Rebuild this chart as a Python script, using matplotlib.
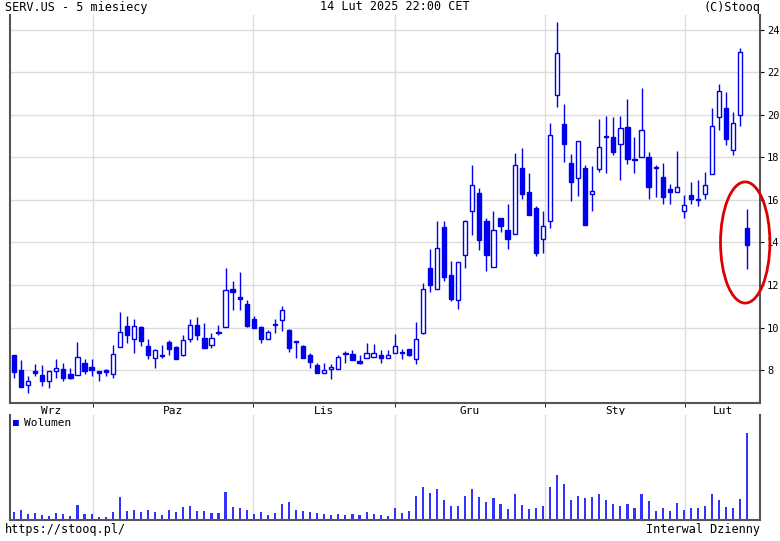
import matplotlib
matplotlib.use("Agg")
import matplotlib.pyplot as plt
from matplotlib.patches import Ellipse
import numpy as np

opens = [8.69,8.0,7.28,7.92,7.77,7.48,7.95,8.06,7.83,7.75,8.31,8.14,7.9,7.94,7.83,9.09,10.06,9.44,10.03,9.13,
         8.58,8.66,9.33,9.09,8.72,9.44,10.14,9.52,9.17,9.72,10.03,11.81,11.38,11.1,10.41,10.02,9.44,10.1,10.34,9.89,
         9.33,9.13,8.73,8.22,7.88,8.06,8.06,8.77,8.77,8.42,8.58,8.62,8.69,8.55,8.81,8.78,8.97,8.5,9.74,12.79,
         11.81,14.72,12.47,11.3,13.43,15.46,16.33,14.99,12.84,15.15,14.6,14.41,17.52,16.37,15.62,14.17,15.0,20.93,19.55,17.76,
         17.05,17.52,16.26,17.47,18.94,18.97,18.65,19.44,17.87,18.03,18.03,17.52,17.08,16.53,16.37,15.5,16.25,15.98,16.3,17.24,
         19.88,20.34,18.34,20.0,14.68]
closes = [7.9,7.2,7.48,7.88,7.48,7.94,8.11,7.64,7.64,8.61,7.95,8.0,7.88,7.92,8.77,9.78,9.64,10.09,9.36,8.69,
          8.92,8.64,9.0,8.53,9.39,10.14,9.67,9.05,9.52,9.72,11.78,11.66,11.36,10.06,9.98,9.47,9.78,10.11,10.81,9.05,
          9.3,8.58,8.38,7.88,8.0,8.06,8.61,8.76,8.45,8.31,8.81,8.78,8.58,8.69,9.13,8.78,8.69,9.48,11.81,12.02,
          13.75,12.36,11.34,13.1,14.99,16.69,14.14,13.39,14.61,14.77,14.17,17.66,16.3,15.27,13.51,14.77,19.05,22.9,18.62,16.85,
          18.76,14.8,16.42,18.5,18.97,18.26,19.4,17.95,17.86,19.28,16.61,17.5,16.14,16.37,16.61,15.78,16.06,16.06,16.69,19.49,
          21.12,18.86,19.6,22.95,13.86]
highs = [8.69,8.47,7.72,8.27,8.22,7.94,8.5,8.34,8.11,9.33,8.5,8.5,7.9,8.03,9.17,10.73,10.56,10.38,10.09,9.47,
         9.0,9.2,9.41,9.13,9.67,10.41,10.48,10.2,9.75,10.14,12.8,12.2,12.6,11.3,10.56,10.06,9.9,10.41,11.03,9.94,
         9.36,9.16,8.78,8.34,8.31,8.27,8.69,8.89,8.92,8.73,9.25,9.23,8.92,8.94,9.7,9.0,9.0,10.25,12.1,13.7,
         14.99,14.99,13.15,13.1,15.08,17.63,16.58,15.15,15.46,15.15,15.82,18.2,18.44,17.27,15.7,15.5,19.64,24.39,20.5,18.14,
         18.76,17.63,17.58,19.79,19.96,19.9,19.96,20.75,18.97,21.25,18.26,17.63,17.76,16.77,18.3,16.25,16.85,16.96,17.32,20.34,
         21.45,21.09,20.15,23.17,15.56]
lows = [7.64,7.2,6.94,7.72,7.25,7.17,7.64,7.48,7.56,7.75,7.8,7.72,7.48,7.72,7.61,9.09,9.25,8.81,9.13,8.5,
        8.11,8.58,8.73,8.5,8.66,9.31,9.41,9.05,9.02,9.63,10.03,10.81,10.84,10.03,9.98,9.25,9.44,9.75,9.83,8.86,
        8.55,8.55,8.11,7.84,7.84,7.56,8.03,8.34,8.45,8.27,8.55,8.62,8.34,8.55,8.81,8.5,8.66,8.27,9.7,11.66,
        11.81,12.2,11.26,10.87,12.8,14.33,13.65,12.68,12.84,14.49,13.7,14.41,16.06,15.27,13.36,13.5,14.68,20.38,17.8,15.95,
        16.17,14.8,15.5,17.32,17.27,18.1,16.92,17.71,17.27,18.03,16.06,16.14,15.79,15.82,16.37,15.16,15.79,15.7,16.06,17.24,
        19.28,18.6,18.1,19.49,12.73]
volumes = [24,30,18,20,15,12,20,18,12,44,18,18,10,8,24,67,27,30,24,30,
           24,14,30,24,38,41,27,27,21,21,82,38,35,30,18,24,15,21,47,53,
           30,27,24,21,18,15,18,15,18,15,24,18,15,12,35,20,26,72,96,79,
           91,58,41,41,70,91,67,53,64,47,32,76,44,32,35,41,97,132,106,58,
           70,64,67,76,58,47,41,47,35,76,56,26,35,26,50,29,35,35,41,76,
           58,38,35,61,257]
month_labels = ["Wrz", "Paz", "Lis", "Gru", "Sty", "Lut"]
month_starts = [11.2, 33.9, 54.0, 75.3, 95.2]
price_ticks = [8, 10, 12, 14, 16, 18, 20, 22, 24]

blue = "#0000ee"
mono = "DejaVu Sans Mono"
fig = plt.figure(figsize=(7.8, 5.41), dpi=100)
x0 = -0.57
x1 = 105.8
ax = fig.add_axes([10/780, 138/541, 750/780, 388/541])
axv = fig.add_axes([10/780, 21/541, 750/780, 105/541])
n = len(opens)
idx = np.arange(n)
o = np.array(opens); c = np.array(closes)
ax.vlines(idx, lows, highs, color=blue, lw=1, zorder=2)
up = c >= o
bot = np.minimum(o, c); h = np.maximum(np.abs(c - o), 0.06)
ax.bar(idx[up], h[up], bottom=bot[up], width=0.6, facecolor="white", edgecolor=blue, lw=1, zorder=3)
ax.bar(idx[~up], h[~up], bottom=bot[~up], width=0.6, facecolor=blue, edgecolor=blue, lw=1, zorder=3)
ax.set_xlim(x0, x1); ax.set_ylim(6.45, 24.7)
ax.set_yticks(price_ticks)
ax.yaxis.tick_right()
ax.tick_params(axis="y", length=3, labelsize=7.5, pad=2)
for t in ax.get_yticklabels(): t.set_fontfamily(mono)
ax.grid(axis="y", color="#dddddd", lw=1, zorder=0)
for m in month_starts:
    ax.axvline(m, color="#dddddd", lw=1, zorder=0)
    axv.axvline(m, color="#dddddd", lw=1, zorder=0)
bounds = [x0] + month_starts + [x1]
mids = [(bounds[i] + bounds[i+1]) / 2 for i in range(len(month_labels))]
ax.set_xticks(mids)
ax.set_xticklabels(month_labels, fontfamily=mono, fontsize=8)
ax.set_xticks(month_starts, minor=True)
ax.tick_params(axis="x", which="major", length=0, pad=2)
ax.tick_params(axis="x", which="minor", length=3)
ax.add_patch(Ellipse((103.7, 14.0), 7.0, 5.7, fill=False, edgecolor="#dd0000", lw=2, zorder=4, clip_on=False))
for a in (ax, axv):
    a.spines["top"].set_visible(False)
    for s in ("left", "bottom", "right"):
        a.spines[s].set_color("#555555"); a.spines[s].set_linewidth(1.5)

axv.bar(idx, volumes, width=0.3, color="#3333ff", zorder=2)
axv.set_xlim(x0, x1); axv.set_ylim(0, 310)
axv.set_xticks([]); axv.set_yticks([])
axv.text(0.004, 0.97, "\u25a0", transform=axv.transAxes, color=blue, fontsize=7, va="top", fontfamily=mono)
axv.text(0.018, 0.97, "Wolumen", transform=axv.transAxes, fontsize=8, va="top", fontfamily=mono)

fig.text(5/780, 1-7/541, "SERV.US - 5 miesiecy", fontsize=8.5, fontfamily=mono, va="center")
fig.text(395/780, 1-7/541, "14 Lut 2025 22:00 CET", fontsize=8.5, fontfamily=mono, va="center", ha="center")
fig.text(760/780, 1-7/541, "(C)Stooq", fontsize=8.5, fontfamily=mono, va="center", ha="right")
fig.text(5/780, 1-529/541, "https://stooq.pl/", fontsize=8.5, fontfamily=mono, va="center")
fig.text(760/780, 1-529/541, "Interwal Dzienny", fontsize=8.5, fontfamily=mono, va="center", ha="right")
fig.savefig("out.png", dpi=100)
